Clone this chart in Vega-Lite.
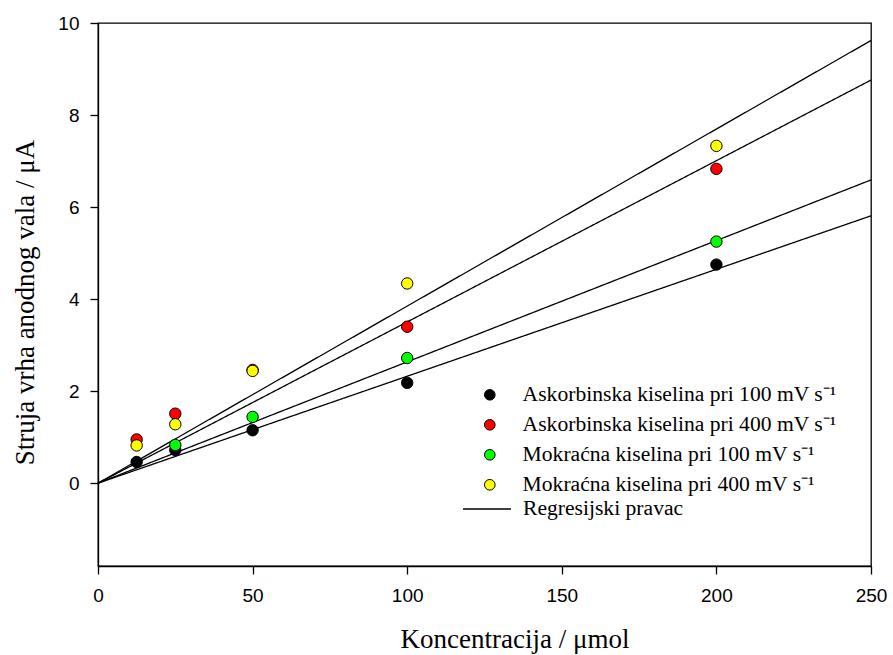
{
  "$schema": "https://vega.github.io/schema/vega-lite/v6.json",
  "width": 773,
  "height": 543,
  "autosize": {"type": "none"},
  "padding": {"left": 98, "top": 23, "right": 22, "bottom": 89},
  "background": "white",
  "config": {
    "view": {"stroke": "black", "strokeWidth": 1.3},
    "axis": {
      "grid": false,
      "domainColor": "black",
      "domainWidth": 1.3,
      "tickColor": "black",
      "tickWidth": 1.3,
      "tickSize": 8,
      "labelFont": "Liberation Sans",
      "labelFontSize": 19,
      "labelColor": "black",
      "labelFlush": false,
      "labelOverlap": false,
      "titleFont": "Liberation Serif",
      "titleFontSize": 27,
      "titleFontWeight": "normal",
      "titleColor": "black"
    },
    "legend": {
      "labelFont": "Liberation Serif",
      "labelFontSize": 21.6,
      "labelColor": "black",
      "labelLimit": 0,
      "padding": 0,
      "orient": "none"
    }
  },
  "datasets": {
    "points": [
      {"series": "Askorbinska kiselina pri 100 mV s⁻¹", "c": 12.5, "i": 0.46},
      {"series": "Askorbinska kiselina pri 100 mV s⁻¹", "c": 25, "i": 0.72},
      {"series": "Askorbinska kiselina pri 100 mV s⁻¹", "c": 50, "i": 1.15},
      {"series": "Askorbinska kiselina pri 100 mV s⁻¹", "c": 100, "i": 2.18},
      {"series": "Askorbinska kiselina pri 100 mV s⁻¹", "c": 200, "i": 4.75},
      {"series": "Askorbinska kiselina pri 400 mV s⁻¹", "c": 12.5, "i": 0.95},
      {"series": "Askorbinska kiselina pri 400 mV s⁻¹", "c": 25, "i": 1.51},
      {"series": "Askorbinska kiselina pri 400 mV s⁻¹", "c": 50, "i": 2.46},
      {"series": "Askorbinska kiselina pri 400 mV s⁻¹", "c": 100, "i": 3.40},
      {"series": "Askorbinska kiselina pri 400 mV s⁻¹", "c": 200, "i": 6.83},
      {"series": "Mokraćna kiselina pri 100 mV s⁻¹", "c": 25, "i": 0.83},
      {"series": "Mokraćna kiselina pri 100 mV s⁻¹", "c": 50, "i": 1.44},
      {"series": "Mokraćna kiselina pri 100 mV s⁻¹", "c": 100, "i": 2.72},
      {"series": "Mokraćna kiselina pri 100 mV s⁻¹", "c": 200, "i": 5.25},
      {"series": "Mokraćna kiselina pri 400 mV s⁻¹", "c": 12.5, "i": 0.82},
      {"series": "Mokraćna kiselina pri 400 mV s⁻¹", "c": 25, "i": 1.28},
      {"series": "Mokraćna kiselina pri 400 mV s⁻¹", "c": 50, "i": 2.44},
      {"series": "Mokraćna kiselina pri 400 mV s⁻¹", "c": 100, "i": 4.34},
      {"series": "Mokraćna kiselina pri 400 mV s⁻¹", "c": 200, "i": 7.33}
    ],
    "lines": [
      {"series": "A100", "reg": "Regresijski pravac", "c": 0, "i": 0},
      {"series": "A100", "reg": "Regresijski pravac", "c": 250, "i": 5.81},
      {"series": "A400", "reg": "Regresijski pravac", "c": 0, "i": 0},
      {"series": "A400", "reg": "Regresijski pravac", "c": 250, "i": 8.76},
      {"series": "M100", "reg": "Regresijski pravac", "c": 0, "i": 0},
      {"series": "M100", "reg": "Regresijski pravac", "c": 250, "i": 6.59},
      {"series": "M400", "reg": "Regresijski pravac", "c": 0, "i": 0},
      {"series": "M400", "reg": "Regresijski pravac", "c": 250, "i": 9.62}
    ]
  },
  "layer": [
    {
      "data": {"name": "lines"},
      "mark": {"type": "line", "color": "black", "strokeWidth": 1.3},
      "encoding": {
        "x": {
          "field": "c", "type": "quantitative",
          "scale": {"domain": [0, 250], "nice": false, "zero": false},
          "axis": {
            "values": [0, 50, 100, 150, 200, 250],
            "labelPadding": 12,
            "title": "Koncentracija / μmol",
            "titleX": 302, "titleY": 81,
            "titleAlign": "left", "titleBaseline": "alphabetic"
          }
        },
        "y": {
          "field": "i", "type": "quantitative",
          "scale": {"domain": [-1.8, 10], "nice": false, "zero": false},
          "axis": {
            "values": [0, 2, 4, 6, 8, 10],
            "labelPadding": 11,
            "title": "Struja vrha anodnog vala / μA",
            "titleX": -65, "titleY": 279,
            "titleAngle": 270,
            "titleAlign": "center", "titleBaseline": "alphabetic"
          }
        },
        "detail": {"field": "series"},
        "strokeDash": {
          "field": "reg", "type": "nominal",
          "scale": {"domain": ["Regresijski pravac"], "range": [[1, 0]]},
          "legend": {
            "title": null,
            "legendX": 364, "legendY": 461,
            "symbolType": "stroke",
            "symbolSize": 2304,
            "symbolStrokeColor": "black",
            "symbolStrokeWidth": 1.3,
            "labelOffset": 11
          }
        }
      }
    },
    {
      "data": {"name": "points"},
      "mark": {"type": "point", "shape": "circle", "filled": true, "stroke": "black", "strokeWidth": 1, "size": 130, "opacity": 1},
      "encoding": {
        "x": {"field": "c", "type": "quantitative"},
        "y": {"field": "i", "type": "quantitative"},
        "fill": {
          "field": "series", "type": "nominal", "sort": null,
          "scale": {
            "domain": [
              "Askorbinska kiselina pri 100 mV s⁻¹",
              "Askorbinska kiselina pri 400 mV s⁻¹",
              "Mokraćna kiselina pri 100 mV s⁻¹",
              "Mokraćna kiselina pri 400 mV s⁻¹"
            ],
            "range": ["#000000", "#ff0000", "#00ff00", "#ffff00"]
          },
          "legend": {
            "title": null,
            "legendX": 381, "legendY": 361,
            "symbolType": "circle",
            "symbolSize": 113,
            "symbolStrokeColor": "black",
            "symbolStrokeWidth": 1,
            "symbolOpacity": 1,
            "labelOffset": 22,
            "rowPadding": 7
          }
        }
      }
    }
  ]
}
